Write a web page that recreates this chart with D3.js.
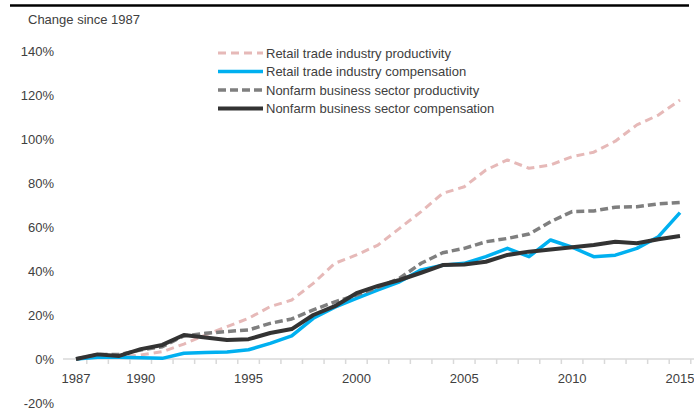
<!DOCTYPE html>
<html>
<head>
<meta charset="utf-8">
<script src="https://cdn.jsdelivr.net/npm/d3@7"></script>
<style>
  body { margin: 0; background: #fff; }
  svg { display: block; font-family: "Liberation Sans", Arial, sans-serif; }
</style>
</head>
<body>
<svg id="chart" width="694" height="413"></svg>
<script>
// values, % change since 1987
const years = d3.range(1987, 2016);
const retailProductivity = [0, 1, 1, 1.8, 3.3, 6.8, 10.9, 14.7, 18.5, 23.8, 26.8, 34.4, 43.5, 47.3, 51.8, 59.4, 67, 75.3, 78.3, 85.9, 90.5, 86.7, 88.2, 92, 94, 99, 106.4, 110.9, 117.7];
const retailCompensation = [0, 0.8, 0.8, 0.6, 0.3, 2.6, 3, 3.2, 4.2, 7.1, 10.5, 18.5, 23.6, 27.6, 31.4, 35.1, 40.5, 42.6, 43.5, 46.5, 50.3, 46.5, 54.1, 50.8, 46.5, 47.2, 50.3, 55.6, 66.5];
const nonfarmProductivity = [0, 2, 2, 4.1, 5.6, 10.5, 11.7, 12.5, 13.2, 16.2, 18.2, 22.3, 26, 29, 32.6, 36.7, 43.5, 48.3, 50.3, 53.3, 54.8, 56.8, 62.4, 67, 67.3, 69, 69.2, 70.5, 71.2];
const nonfarmCompensation = [0, 2.1, 1.4, 4.5, 6.4, 10.9, 9.8, 8.6, 9, 11.8, 13.6, 20, 24, 29.9, 33.2, 35.9, 39.2, 42.7, 43, 44.2, 47.3, 48.8, 49.8, 50.8, 51.8, 53.3, 52.6, 54.4, 55.9];
const yTicks = [-20, 0, 20, 40, 60, 80, 100, 120, 140];
const xLabels = [1987, 1990, 1995, 2000, 2005, 2010, 2015];

const seriesNames = [
  "Retail trade industry productivity",
  "Retail trade industry compensation",
  "Nonfarm business sector productivity",
  "Nonfarm business sector compensation"
];

const styles = [
  { color: "#e6b9b8", width: 3, dash: "8,5" },
  { color: "#00b0f0", width: 3.5, dash: null },
  { color: "#7f7f7f", width: 3.5, dash: "8,4" },
  { color: "#333333", width: 4, dash: null }
];

const series = [retailProductivity, retailCompensation, nonfarmProductivity, nonfarmCompensation];

const svg = d3.select("#chart");

const x = d3.scaleLinear().domain([1987, 2015]).range([76, 680]);
const y = d3.scaleLinear().domain([-20, 140]).range([403, 51]);

// top rule
svg.append("line")
  .attr("x1", 10).attr("x2", 689)
  .attr("y1", 5.5).attr("y2", 5.5)
  .attr("stroke", "#000").attr("stroke-width", 2.5);

svg.append("text")
  .attr("x", 28).attr("y", 24)
  .attr("font-size", 13)
  .attr("fill", "#404040")
  .text("Change since 1987");

// y labels, no axis line
const gY = svg.append("g")
  .attr("transform", "translate(54,0)")
  .call(d3.axisLeft(y).tickValues(yTicks).tickSize(0).tickPadding(0)
    .tickFormat(d => d + "%"));
gY.select(".domain").remove();
gY.selectAll("text")
  .attr("font-size", 13)
  .attr("font-family", "Liberation Sans, Arial, sans-serif")
  .attr("fill", "#404040");

// x axis at 0%, ticks between years
const gX = svg.append("g")
  .attr("transform", `translate(0,${y(0)})`);
gX.append("line")
  .attr("x1", 63).attr("x2", 694)
  .attr("stroke", "#d9d9d9").attr("stroke-width", 1.5);
gX.selectAll(".tk")
  .data(d3.range(1987.5, 2016.5, 1))
  .join("line")
  .attr("class", "tk")
  .attr("x1", d => x(d)).attr("x2", d => x(d))
  .attr("y1", 0).attr("y2", 5)
  .attr("stroke", "#d9d9d9").attr("stroke-width", 1.5);
gX.selectAll(".lbl")
  .data(xLabels)
  .join("text")
  .attr("class", "lbl")
  .attr("x", d => x(d))
  .attr("y", 24)
  .attr("text-anchor", "middle")
  .attr("font-size", 13)
  .attr("fill", "#404040")
  .text(d => d);

// lines
const line = d3.line()
  .x((d, i) => x(years[i]))
  .y(d => y(d));

series.forEach((s, i) => {
  svg.append("path")
    .datum(s)
    .attr("fill", "none")
    .attr("stroke", styles[i].color)
    .attr("stroke-width", styles[i].width)
    .attr("stroke-dasharray", styles[i].dash)
    .attr("stroke-linejoin", "round")
    .attr("d", line);
});

// legend
const legend = svg.append("g").attr("transform", "translate(218,53)");
seriesNames.forEach((name, i) => {
  const row = legend.append("g").attr("transform", `translate(0,${i * 18.5})`);
  row.append("line")
    .attr("x1", 0).attr("x2", 45)
    .attr("stroke", styles[i].color)
    .attr("stroke-width", styles[i].width)
    .attr("stroke-dasharray", styles[i].dash);
  row.append("text")
    .attr("x", 48).attr("y", 4.5)
    .attr("font-size", 13)
    .attr("fill", "#404040")
    .text(name);
});
</script>
</body>
</html>
